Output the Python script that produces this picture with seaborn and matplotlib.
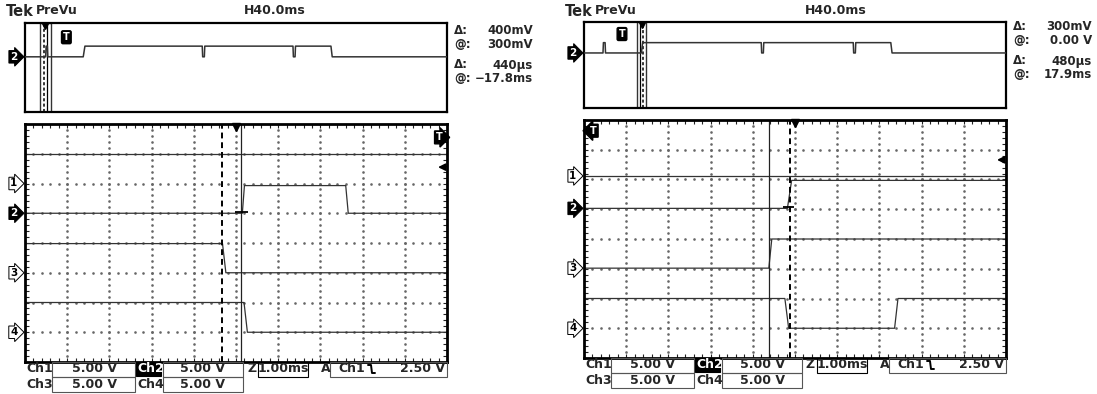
import numpy as np
import seaborn as sns
import matplotlib.pyplot as plt
from matplotlib.patches import Rectangle
from matplotlib.lines import Line2D
from matplotlib.transforms import blended_transform_factory

sns.set_style("white")
plt.rcParams['font.family'] = ['DejaVu Sans']

W, H = 1097, 394

# ---- main screen traces (divisions: x 0-10, y 0-8) ----
left_ch1_x = [0, 10]
left_ch1_y = [7.0, 7.0]
left_ch2_x = [0, 5.15, 5.20, 7.60, 7.66, 10]
left_ch2_y = [5.0, 5.0, 5.93, 5.93, 5.0, 5.0]
left_ch3_x = [0, 4.68, 4.76, 10]
left_ch3_y = [3.98, 3.98, 3.0, 3.0]
left_ch4_x = [0, 5.19, 5.27, 10]
left_ch4_y = [2.0, 2.0, 1.0, 1.0]
left_ground = [6.0, 5.0, 3.0, 1.0]
left_cursor_dashed = 4.67
left_cursor_solid = 5.13

right_ch1_x = [0, 10]
right_ch1_y = [6.12, 6.12]
right_ch2_x = [0, 4.82, 4.92, 10]
right_ch2_y = [5.03, 5.03, 5.97, 5.97]
right_ch3_x = [0, 4.38, 4.45, 10]
right_ch3_y = [3.02, 3.02, 4.0, 4.0]
right_ch4_x = [0, 4.76, 4.85, 7.36, 7.44, 10]
right_ch4_y = [2.0, 2.0, 1.0, 1.0, 2.0, 2.0]
right_ground = [6.12, 5.03, 3.02, 1.0]
right_cursor_dashed = 4.87
right_cursor_solid = 4.38

# ---- preview traces (fraction of preview box) ----
left_prev_x = [0, 0.049, 0.050, 0.053, 0.054, 0.138, 0.142, 0.420, 0.421, 0.425, 0.426,
               0.635, 0.636, 0.640, 0.641, 0.725, 0.728, 1]
left_prev_y = [0.62, 0.62, 0.74, 0.74, 0.62, 0.62, 0.74, 0.74, 0.62, 0.62, 0.74,
               0.74, 0.62, 0.62, 0.74, 0.74, 0.62, 0.62]
right_prev_x = [0, 0.045, 0.046, 0.050, 0.051, 0.136, 0.139, 0.420, 0.421, 0.425, 0.426,
                0.638, 0.639, 0.643, 0.644, 0.727, 0.730, 1]
right_prev_y = [0.64, 0.64, 0.76, 0.76, 0.64, 0.64, 0.76, 0.76, 0.64, 0.64, 0.76,
                0.76, 0.64, 0.64, 0.76, 0.76, 0.64, 0.64]

# ---- readouts ----
readout_labels = ["Δ:", "@:", "Δ:", "@:"]
left_readouts = ["400mV", "300mV", "440µs", "−17.8ms"]
right_readouts = ["300mV", "0.00 V", "480µs", "17.9ms"]
volts_per_div = ["5.00 V", "5.00 V", "5.00 V", "5.00 V"]
timebase = "1.00ms"
preview_timebase = "H40.0ms"
trigger_level = "2.50 V"

TRACE = '#333333'

fig = plt.figure(figsize=(W / 100, H / 100), dpi=100)


def rect_px(x0, y0, x1, y1):
    return [x0 / W, 1 - y1 / H, (x1 - x0) / W, (y1 - y0) / H]


def text_px(x, y, s, **kw):
    kw.setdefault('fontsize', 9)
    kw.setdefault('fontweight', 'bold')
    kw.setdefault('va', 'center')
    fig.text(x / W, 1 - y / H, s, **kw)


def box_px(x0, y0, x1, y1, **kw):
    fig.add_artist(Rectangle((x0 / W, 1 - y1 / H), (x1 - x0) / W, (y1 - y0) / H,
                             transform=fig.transFigure, fill=kw.get('fill', False),
                             fc=kw.get('fc', 'none'), ec=kw.get('ec', '#555555'),
                             lw=kw.get('lw', 0.8)))


def draw_main(box, traces, ground, dashed, solid, hmark, arrow_y, tmark):
    ax = fig.add_axes(rect_px(*box))
    ax.set_xlim(0, 10)
    ax.set_ylim(0, 8)
    # dotted graticule
    yy = np.arange(0, 8.01, 0.2)
    for gx in range(1, 10):
        ax.plot(np.full_like(yy, gx), yy, ls='none', marker='s', ms=0.8, color='#666666')
    xx = np.arange(0, 10.01, 0.2)
    for gy in range(1, 8):
        ax.plot(xx, np.full_like(xx, gy), ls='none', marker='s', ms=0.8, color='#666666')
    ax.set_xticks(range(11))
    ax.set_yticks(range(9))
    ax.set_xticks(np.arange(0, 10.01, 0.2), minor=True)
    ax.set_yticks(np.arange(0, 8.01, 0.2), minor=True)
    ax.tick_params(which='both', direction='in', length=3, width=0.8, color='#222222',
                   top=True, right=True, bottom=True, left=True,
                   labelbottom=False, labelleft=False)
    for s in ax.spines.values():
        s.set_linewidth(2)
        s.set_color('black')
    for xs, ys in traces:
        sns.lineplot(x=xs, y=ys, ax=ax, color=TRACE, lw=0.9, estimator=None, sort=False)
    ax.axvline(dashed, ls=(0, (3, 2)), lw=1.4, color='black')
    ax.axvline(solid, lw=0.9, color='#222222')
    ax.hlines(hmark[2], hmark[0], hmark[1], lw=1.3, color='black')
    ax.plot(5, 7.9, marker='v', ms=6, color='black', clip_on=False)
    ax.annotate('', xy=(9.72, arrow_y), xytext=(10, arrow_y),
                arrowprops=dict(arrowstyle='-|>', color='black', lw=1.4, mutation_scale=10))
    ax.text(tmark[0], tmark[1], 'T', fontsize=7, fontweight='bold', color='white',
            ha='center', va='center',
            bbox=dict(boxstyle=tmark[2] + ',pad=0.15', fc='black', ec='black'))
    bt = blended_transform_factory(ax.transAxes, ax.transData)
    for i, lvl in enumerate(ground):
        filled = i == 1
        ax.text(-0.018, lvl, str(i + 1), transform=bt, ha='right', va='center',
                fontsize=7.5, fontweight='bold', color='white' if filled else 'black',
                bbox=dict(boxstyle='rarrow,pad=0.12', fc='black' if filled else 'white',
                          ec='black', lw=0.7))
    return ax


def draw_preview(box, xs, ys, win, tpos):
    ax = fig.add_axes(rect_px(*box))
    ax.set_xlim(0, 1)
    ax.set_ylim(0, 1)
    ax.set_xticks([])
    ax.set_yticks([])
    for s in ax.spines.values():
        s.set_linewidth(1.6)
        s.set_color('black')
    ax.add_patch(Rectangle((win[0], 0), win[1] - win[0], 1, fc='white', ec='#333333', lw=1.0, zorder=1))
    ax.axvline(win[2], ls=(0, (2, 1.5)), lw=1.1, color='black', zorder=2)
    ax.axvline(win[3], lw=0.9, color='black', zorder=2)
    sns.lineplot(x=xs, y=ys, ax=ax, color=TRACE, lw=1.1, estimator=None, sort=False, zorder=3)
    ax.plot((win[0] + win[1]) / 2, 0.97, marker='v', ms=4.5, color='black', clip_on=False)
    ax.text(tpos[0], tpos[1], 'T', fontsize=7, fontweight='bold', color='white',
            ha='center', va='center', bbox=dict(boxstyle='round,pad=0.15', fc='black', ec='black'))
    bt = blended_transform_factory(ax.transAxes, ax.transData)
    ax.text(-0.018, ys[0], '2', transform=bt, ha='right', va='center', fontsize=7.5,
            fontweight='bold', color='white',
            bbox=dict(boxstyle='rarrow,pad=0.12', fc='black', ec='black', lw=0.7))


def draw_texts(dx, dy, readouts, header_center):
    text_px(6 + dx, 11, 'Tek', fontsize=10.5)
    text_px(36 + dx, 11, 'PreVu', fontsize=9)
    text_px(header_center, 11, preview_timebase, ha='center')
    ry = [31, 44, 65, 78]
    for lab, val, y in zip(readout_labels, readouts, ry):
        text_px(454 + dx, y + dy, lab, fontsize=8.5)
        text_px(533 + dx, y + dy, val, ha='right', fontsize=8.5)
    r1, r2 = 369 + dy, 384 + dy
    text_px(26 + dx, r1, 'Ch1')
    box_px(52 + dx, r1 - 7.5, 135 + dx, r1 + 7.5)
    text_px(94 + dx, r1, volts_per_div[0], ha='center')
    box_px(136 + dx, r1 - 7, 161 + dx, r1 + 7, fill=True, fc='black', ec='black')
    text_px(137 + dx, r1, 'Ch2', color='white')
    box_px(163 + dx, r1 - 7.5, 243 + dx, r1 + 7.5)
    text_px(203 + dx, r1, volts_per_div[1], ha='center')
    text_px(247 + dx, r1, 'Z')
    box_px(258 + dx, r1 - 7.5, 308 + dx, r1 + 7.5, ec='black')
    text_px(283 + dx, r1, timebase, ha='center')
    text_px(321 + dx, r1, 'A')
    box_px(330 + dx, r1 - 7.5, 447 + dx, r1 + 7.5)
    text_px(338 + dx, r1, 'Ch1')
    ex = 368 + dx
    fig.add_artist(Line2D([(ex) / W, (ex + 3) / W, (ex + 4) / W, (ex + 7) / W],
                          [1 - (r1 - 4) / H, 1 - (r1 - 4) / H, 1 - (r1 + 4) / H, 1 - (r1 + 4) / H],
                          transform=fig.transFigure, color='black', lw=1.4))
    text_px(445 + dx, r1, trigger_level, ha='right')
    text_px(26 + dx, r2, 'Ch3')
    box_px(52 + dx, r2 - 7.5, 135 + dx, r2 + 7.5)
    text_px(94 + dx, r2, volts_per_div[2], ha='center')
    text_px(137 + dx, r2, 'Ch4')
    box_px(163 + dx, r2 - 7.5, 243 + dx, r2 + 7.5)
    text_px(203 + dx, r2, volts_per_div[3], ha='center')


# left screen
draw_preview((25, 23, 447, 112), left_prev_x, left_prev_y, (0.036, 0.061, 0.046, 0.052), (0.098, 0.84))
draw_main((25, 124, 447, 362),
          [(left_ch1_x, left_ch1_y), (left_ch2_x, left_ch2_y),
           (left_ch3_x, left_ch3_y), (left_ch4_x, left_ch4_y)],
          left_ground, left_cursor_dashed, left_cursor_solid,
          (4.98, 5.28, 5.04), 6.55, (9.82, 7.55, 'rarrow'))
draw_texts(0, 0, left_readouts, 275)

# right screen
draw_preview((584, 22, 1006, 108), right_prev_x, right_prev_y, (0.126, 0.148, 0.140, 0.133), (0.09, 0.86))
draw_main((584, 120, 1006, 358),
          [(right_ch1_x, right_ch1_y), (right_ch2_x, right_ch2_y),
           (right_ch3_x, right_ch3_y), (right_ch4_x, right_ch4_y)],
          right_ground, right_cursor_dashed, right_cursor_solid,
          (4.71, 4.98, 5.08), 6.66, (0.22, 7.64, 'larrow'))
draw_texts(559, -4, right_readouts, 836)

fig.savefig('out.png', dpi=100)
